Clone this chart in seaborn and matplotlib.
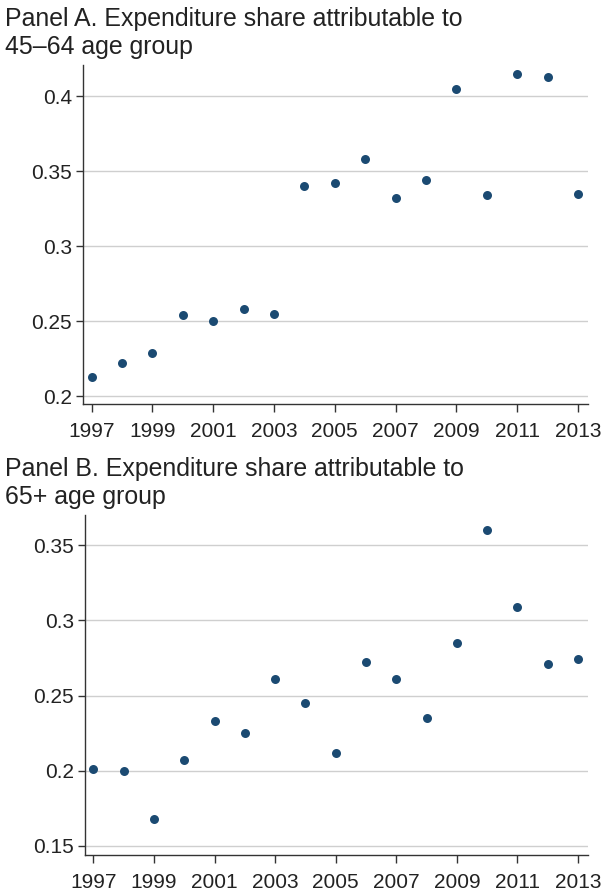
import matplotlib
matplotlib.use("Agg")
import matplotlib.pyplot as plt
import seaborn as sns
import pandas as pd

years = list(range(1997, 2014))
share_45_64 = [0.213, 0.222, 0.229, 0.254, 0.250, 0.258, 0.255, 0.340, 0.342,
               0.358, 0.332, 0.344, 0.405, 0.334, 0.415, 0.413, 0.335]
share_65_plus = [0.201, 0.200, 0.168, 0.207, 0.233, 0.225, 0.261, 0.245, 0.212,
                 0.272, 0.261, 0.235, 0.285, 0.360, 0.309, 0.271, 0.274]
xtick_years = list(range(1997, 2014, 2))
titles = ["Panel A. Expenditure share attributable to\n45\u201364 age group",
          "Panel B. Expenditure share attributable to\n65+ age group"]
yticks_a = [0.2, 0.25, 0.3, 0.35, 0.4]
yticks_b = [0.15, 0.2, 0.25, 0.3, 0.35]
ytick_labels_a = ["0.2", "0.25", "0.3", "0.35", "0.4"]
ytick_labels_b = ["0.15", "0.2", "0.25", "0.3", "0.35"]

sns.set_theme(style="white")
plt.rcParams['font.family'] = ['Liberation Sans', 'DejaVu Sans']

fig = plt.figure(figsize=(6.1, 8.91), dpi=100)
W, H = 610, 891

def px_axes(left, top, right, bottom):
    return fig.add_axes([left / W, 1 - bottom / H, (right - left) / W, (bottom - top) / H])

axA = px_axes(83, 65, 588, 404)
axB = px_axes(85, 515, 588, 855)

color = "#1b4a72"
specs = [
    (axA, share_45_64, yticks_a, ytick_labels_a, (0.1947, 0.4207), titles[0], 7),
    (axB, share_65_plus, yticks_b, ytick_labels_b, (0.144, 0.370), titles[1], 457),
]
for ax, vals, yt, ytl, ylim, title, ty in specs:
    df = pd.DataFrame({"year": years, "share": vals})
    sns.scatterplot(data=df, x="year", y="share", ax=ax, color=color, s=42,
                    edgecolor=color, linewidth=0, zorder=3)
    ax.set_xlim(1996.72, 2013.33)
    ax.set_ylim(*ylim)
    ax.set_xticks(xtick_years)
    ax.set_xticklabels([str(y) for y in xtick_years])
    ax.set_yticks(yt)
    ax.set_yticklabels(ytl)
    ax.set_xlabel("")
    ax.set_ylabel("")
    ax.grid(axis="y", color="#cfcfcf", linewidth=1.0)
    ax.set_axisbelow(True)
    for s in ["top", "right"]:
        ax.spines[s].set_visible(False)
    for s in ["left", "bottom"]:
        ax.spines[s].set_color("#333333")
        ax.spines[s].set_linewidth(1.0)
    ax.tick_params(axis="both", which="major", direction="out", length=5, width=1,
                   color="#333333", labelsize=15, labelcolor="#222222", pad=3,
                   left=True, bottom=True)
    ax.tick_params(axis="x", length=6, pad=7)
    fig.text(5 / W, 1 - ty / H, title, ha="left", va="top", fontsize=17.9,
             color="#222222", linespacing=1.2)

fig.savefig("out.png", dpi=100)
